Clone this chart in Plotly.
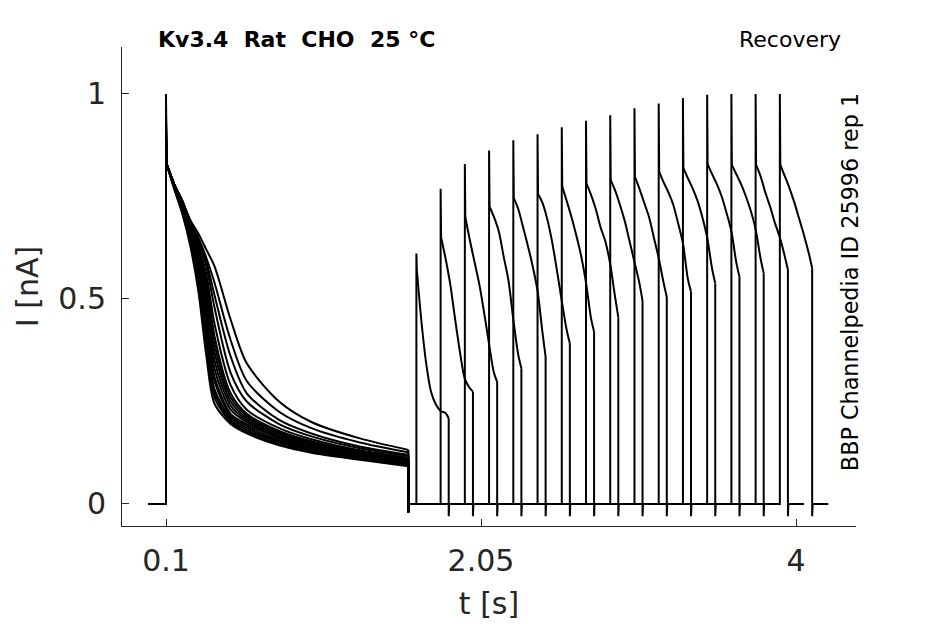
import plotly.graph_objects as go

# ---------------- data ----------------
HOLD_START = -0.01          # s, start of each sweep
PRE_START = 0.1             # s, prepulse onset
PRE_END = 1.6               # s, prepulse end
TEST_DUR = 0.2              # s, test pulse duration
POST_HOLD = 0.1             # s, holding after test pulse
PRE_TAIL = -0.02            # nA, tail dip after prepulse
TEST_TAIL = -0.03           # nA, tail dip after test pulse

# prepulse spike peaks per sweep
pre_peak = [1.0, 0.97, 0.95, 0.94, 0.93, 0.92, 0.92, 0.91,
            0.91, 0.90, 0.90, 0.89, 0.89, 0.88, 0.88, 0.87]

# prepulse decay: time offsets after PRE_START (s) and values per sweep (nA)
pre_t = [0.003, 0.05, 0.1, 0.15, 0.2, 0.25, 0.3, 0.4, 0.5, 0.7, 0.9, 1.2, 1.5]
pre_vals = [
    [0.83, 0.77, 0.71, 0.63, 0.52, 0.36, 0.245, 0.195, 0.172, 0.143, 0.125, 0.108, 0.092],
    [0.83, 0.77, 0.71, 0.64, 0.54, 0.39, 0.26, 0.20, 0.176, 0.146, 0.127, 0.110, 0.094],
    [0.83, 0.775, 0.715, 0.645, 0.55, 0.41, 0.27, 0.205, 0.18, 0.15, 0.13, 0.112, 0.096],
    [0.83, 0.775, 0.72, 0.65, 0.56, 0.43, 0.28, 0.21, 0.185, 0.153, 0.133, 0.114, 0.098],
    [0.83, 0.775, 0.72, 0.655, 0.57, 0.45, 0.30, 0.215, 0.19, 0.156, 0.136, 0.116, 0.10],
    [0.83, 0.78, 0.725, 0.66, 0.58, 0.47, 0.31, 0.22, 0.195, 0.16, 0.139, 0.118, 0.10],
    [0.83, 0.78, 0.725, 0.665, 0.59, 0.49, 0.33, 0.23, 0.20, 0.163, 0.141, 0.12, 0.102],
    [0.83, 0.78, 0.73, 0.665, 0.60, 0.51, 0.35, 0.24, 0.205, 0.166, 0.144, 0.122, 0.104],
    [0.83, 0.78, 0.73, 0.67, 0.61, 0.52, 0.37, 0.25, 0.21, 0.17, 0.147, 0.124, 0.106],
    [0.83, 0.78, 0.73, 0.675, 0.615, 0.54, 0.39, 0.26, 0.215, 0.174, 0.15, 0.126, 0.108],
    [0.83, 0.78, 0.735, 0.68, 0.625, 0.55, 0.41, 0.27, 0.22, 0.178, 0.153, 0.128, 0.11],
    [0.83, 0.78, 0.735, 0.68, 0.63, 0.56, 0.44, 0.29, 0.23, 0.185, 0.158, 0.131, 0.113],
    [0.83, 0.78, 0.74, 0.685, 0.64, 0.58, 0.48, 0.32, 0.25, 0.195, 0.165, 0.136, 0.117],
    [0.83, 0.78, 0.74, 0.69, 0.645, 0.59, 0.51, 0.36, 0.27, 0.205, 0.172, 0.14, 0.12],
    [0.83, 0.78, 0.74, 0.69, 0.65, 0.60, 0.54, 0.40, 0.30, 0.225, 0.185, 0.15, 0.126],
    [0.83, 0.78, 0.74, 0.693, 0.66, 0.62, 0.58, 0.45, 0.343, 0.25, 0.20, 0.16, 0.132],
]

# test pulses: onset times (s), peak (nA), decay values on test_t offsets
test_onset = [1.65, 1.80, 1.95, 2.10, 2.25, 2.40, 2.55, 2.70,
              2.85, 3.00, 3.15, 3.30, 3.45, 3.60, 3.75, 3.90]
test_peak = [0.611, 0.769, 0.829, 0.862, 0.887, 0.902, 0.919, 0.935,
             0.948, 0.965, 0.977, 0.990, 0.998, 1.0, 1.0, 1.0]
test_t = [0.003, 0.03, 0.06, 0.09, 0.12, 0.15, 0.18, 0.2]
test_vals = [
    [0.57, 0.45, 0.345, 0.275, 0.243, 0.227, 0.222, 0.209],
    [0.65, 0.60, 0.535, 0.45, 0.37, 0.305, 0.283, 0.274],
    [0.70, 0.645, 0.59, 0.535, 0.465, 0.39, 0.32, 0.298],
    [0.725, 0.70, 0.665, 0.604, 0.545, 0.45, 0.365, 0.331],
    [0.746, 0.72, 0.676, 0.63, 0.58, 0.52, 0.42, 0.359],
    [0.756, 0.735, 0.695, 0.64, 0.57, 0.495, 0.425, 0.392],
    [0.774, 0.74, 0.70, 0.655, 0.605, 0.54, 0.455, 0.42],
    [0.782, 0.755, 0.72, 0.675, 0.64, 0.585, 0.505, 0.455],
    [0.79, 0.765, 0.73, 0.69, 0.64, 0.59, 0.54, 0.495],
    [0.798, 0.77, 0.735, 0.70, 0.65, 0.60, 0.54, 0.505],
    [0.81, 0.785, 0.76, 0.73, 0.685, 0.636, 0.55, 0.518],
    [0.819, 0.795, 0.77, 0.74, 0.70, 0.65, 0.575, 0.538],
    [0.829, 0.805, 0.78, 0.75, 0.71, 0.665, 0.59, 0.554],
    [0.827, 0.805, 0.78, 0.75, 0.715, 0.67, 0.60, 0.563],
    [0.827, 0.80, 0.76, 0.725, 0.685, 0.65, 0.605, 0.571],
    [0.827, 0.80, 0.77, 0.735, 0.695, 0.655, 0.61, 0.575],
]

x_tickvals = [0.1, 2.05, 4]
x_ticktext = ["0.1", "2.05", "4"]
y_tickvals = [0, 0.5, 1]
y_ticktext = ["0", "0.5", "1"]

TITLE = "<b>Kv3.4  Rat  CHO  25 °C</b>"
PROTOCOL = "Recovery"
SOURCE = "BBP Channelpedia ID 25996 rep 1"

# ---------------- build sweep paths ----------------
lin_x, lin_y = [], []
spl_x, spl_y = [], []
for k in range(len(test_onset)):
    on = test_onset[k]
    pv = pre_vals[k]
    tv = test_vals[k]
    # holding + prepulse spike
    lin_x += [HOLD_START, PRE_START, PRE_START, PRE_START + pre_t[0], None]
    lin_y += [0, 0, pre_peak[k], pv[0], None]
    # prepulse inactivation
    spl_x += [PRE_START + t for t in pre_t] + [None]
    spl_y += list(pv) + [None]
    # prepulse end, gap, test spike
    lin_x += [PRE_START + pre_t[-1], PRE_END, PRE_END, PRE_END + 0.003,
              on, on, on + test_t[0], None]
    lin_y += [pv[-1], pv[-1], PRE_TAIL, 0, 0, test_peak[k], tv[0], None]
    # test pulse decay
    spl_x += [on + t for t in test_t] + [None]
    spl_y += list(tv) + [None]
    # test end, tail, holding
    te = on + TEST_DUR
    lin_x += [te, te, te + 0.003, te + POST_HOLD, None]
    lin_y += [tv[-1], TEST_TAIL, 0, 0, None]

fig = go.Figure()
fig.add_trace(go.Scatter(x=lin_x, y=lin_y, mode="lines",
                         line=dict(color="black", width=2),
                         connectgaps=False, hoverinfo="skip"))
fig.add_trace(go.Scatter(x=spl_x, y=spl_y, mode="lines",
                         line=dict(color="black", width=2, shape="spline",
                                   smoothing=0.8),
                         connectgaps=False, hoverinfo="skip"))

axis_color = "#262626"
font_family = "DejaVu Sans"

fig.update_layout(
    width=945, height=624,
    margin=dict(l=114, r=97, t=39, b=106),
    paper_bgcolor="white", plot_bgcolor="white",
    showlegend=False,
    font=dict(family=font_family, color=axis_color),
    xaxis=dict(
        range=[-0.1724, 4.3714], showgrid=False, zeroline=False,
        showline=True, linecolor=axis_color, linewidth=1,
        ticks="inside", ticklen=7, tickwidth=1, tickcolor=axis_color,
        tickvals=x_tickvals, ticktext=x_ticktext,
        tickfont=dict(size=30, family=font_family, color=axis_color),
        ticklabelstandoff=8,
        title=dict(text="t [s]", font=dict(size=30, family=font_family,
                                          color=axis_color), standoff=15),
    ),
    yaxis=dict(
        range=[-0.0537, 1.1146], showgrid=False, zeroline=False,
        showline=True, linecolor=axis_color, linewidth=1,
        ticks="inside", ticklen=7, tickwidth=1, tickcolor=axis_color,
        tickvals=y_tickvals, ticktext=y_ticktext,
        tickfont=dict(size=30, family=font_family, color=axis_color),
        ticklabelstandoff=9,
        title=dict(text="I [nA]", font=dict(size=30, family=font_family,
                                           color=axis_color), standoff=10),
    ),
    annotations=[
        dict(text=TITLE, xref="paper", yref="paper", x=0.0463, y=1.0167,
             xanchor="left", yanchor="middle", showarrow=False,
             font=dict(size=22, family=font_family, color="black")),
        dict(text=PROTOCOL, xref="paper", yref="paper", x=0.982, y=1.0167,
             xanchor="right", yanchor="middle", showarrow=False,
             font=dict(size=22, family=font_family, color="black")),
        dict(text=SOURCE, xref="paper", yref="paper", x=0.9918, y=0.509,
             xanchor="center", yanchor="middle", showarrow=False,
             textangle=-90,
             font=dict(size=22.3, family=font_family, color="black")),
    ],
)

fig.write_html("out.html")
